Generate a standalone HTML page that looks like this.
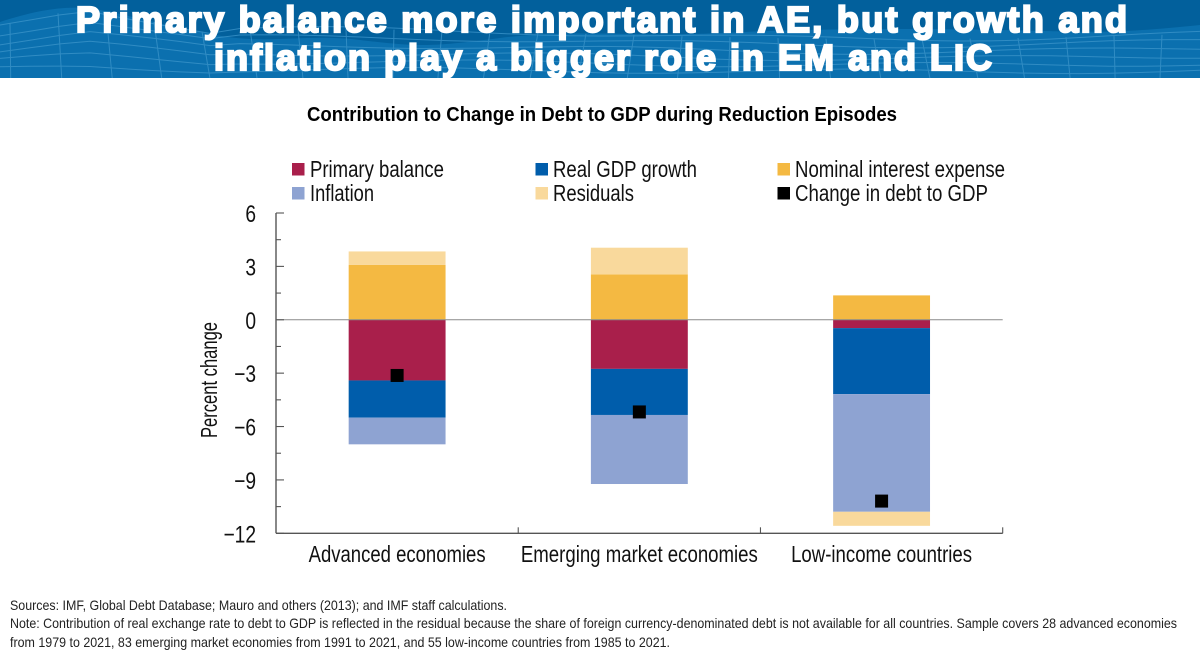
<!DOCTYPE html>
<html lang="en">
<head>
<meta charset="utf-8">
<title>Contribution to Change in Debt to GDP during Reduction Episodes</title>
<style>
html,body{margin:0;padding:0;background:#fff;width:1200px;height:651px;overflow:hidden}
svg{display:block}
text{font-family:"Liberation Sans",Arial,sans-serif;fill:#111}
</style>
</head>
<body>
<svg id="slide" width="1200" height="651" viewBox="0 0 1200 651" xmlns="http://www.w3.org/2000/svg">
  <rect width="1200" height="651" fill="#fff"/>
  <g id="banner">
    <rect width="1200" height="78" fill="#02609c"/>
    <path fill="#0b70af" d="M0 22C30 12 60 6 85 8S150 22 210 34S300 33 360 40S430 47 500 38S640 37 720 33S900 28 1000 30S1110 34 1200 25V78H0Z"/>
    <g id="mesh" fill="none" stroke="#3a93c9" stroke-width="1" opacity=".8"></g>
  </g>
  <text x="76" y="32" font-size="36" font-weight="700" textLength="1051" lengthAdjust="spacing" style="fill:#fff;stroke:#fff;stroke-width:2.2px">Primary balance more important in AE, but growth and</text>
  <text x="214" y="70" font-size="36" font-weight="700" textLength="778" lengthAdjust="spacing" style="fill:#fff;stroke:#fff;stroke-width:2.2px">inflation play a bigger role in EM and LIC</text>
  <text x="307" y="121" font-size="20.5" font-weight="700" textLength="590" lengthAdjust="spacingAndGlyphs" style="fill:#000">Contribution to Change in Debt to GDP during Reduction Episodes</text>

  <g id="legend">
    <g><rect x="292" y="163" width="12.5" height="12.5" fill="#a91f4b"/><text x="310" y="177" font-size="23" textLength="134" lengthAdjust="spacingAndGlyphs">Primary balance</text></g>
    <g><rect x="535.5" y="163" width="12.5" height="12.5" fill="#005dab"/><text x="553" y="177" font-size="23" textLength="144" lengthAdjust="spacingAndGlyphs">Real GDP growth</text></g>
    <g><rect x="777.5" y="163" width="12.5" height="12.5" fill="#f4b942"/><text x="795" y="177" font-size="23" textLength="210" lengthAdjust="spacingAndGlyphs">Nominal interest expense</text></g>
    <g><rect x="292" y="187" width="12.5" height="12.5" fill="#8ea3d2"/><text x="310" y="201" font-size="23" textLength="64" lengthAdjust="spacingAndGlyphs">Inflation</text></g>
    <g><rect x="535.5" y="187" width="12.5" height="12.5" fill="#f9d99c"/><text x="553" y="201" font-size="23" textLength="81" lengthAdjust="spacingAndGlyphs">Residuals</text></g>
    <g><rect x="777.5" y="187" width="12.5" height="12.5" fill="#000"/><text x="795" y="201" font-size="23" textLength="193" lengthAdjust="spacingAndGlyphs">Change in debt to GDP</text></g>
  </g>

  <g id="bars"></g>
  <g id="axes"></g>
  <g id="markers"></g>
  <text transform="translate(217,438) rotate(-90)" font-size="23" textLength="116" lengthAdjust="spacingAndGlyphs">Percent change</text>

  <g>
    <text x="10" y="610" font-size="14" textLength="497" lengthAdjust="spacingAndGlyphs" style="fill:#222">Sources: IMF, Global Debt Database; Mauro and others (2013); and IMF staff calculations.</text>
    <text x="10" y="628" font-size="14" textLength="1167" lengthAdjust="spacingAndGlyphs" style="fill:#222">Note: Contribution of real exchange rate to debt to GDP is reflected in the residual because the share of foreign currency-denominated debt is not available for all countries. Sample covers 28 advanced economies</text>
    <text x="10" y="647" font-size="14" textLength="660" lengthAdjust="spacingAndGlyphs" style="fill:#222">from 1979 to 2021, 83 emerging market economies from 1991 to 2021, and 55 low-income countries from 1985 to 2021.</text>
  </g>
</svg>
<script>
// Chart data
const categories = ["Advanced economies", "Emerging market economies", "Low-income countries"];
const primaryBalance = [-3.41, -2.76, -0.47];
const realGdpGrowth = [-2.09, -2.59, -3.71];
const inflation = [-1.5, -3.88, -6.61];
const nominalInterest = [3.08, 2.55, 1.37];
const residuals = [0.76, 1.5, -0.79];
const changeInDebt = [-3.13, -5.18, -10.19];
const yTicks = [6, 3, 0, -3, -6, -9, -12];
const yMinorTicks = [4.5, 1.5, -1.5, -4.5, -7.5, -10.5];
const categoryWidths = [177, 237, 181];

const NS = "http://www.w3.org/2000/svg";
const plot = { left: 276, right: 1002.7, top: 213, bottom: 533.3, max: 6, min: -12 };
const yScale = v => plot.top + (plot.max - v) * (plot.bottom - plot.top) / (plot.max - plot.min);
const band = (plot.right - plot.left) / categories.length;
const xCenter = i => plot.left + band * (i + 0.5);
const barWidth = band * 0.4;

function make(tag, parent, props) {
  const el = document.createElementNS(NS, tag);
  for (const k in props) el.setAttribute(k, props[k]);
  parent.appendChild(el);
  return el;
}

const seriesList = [
  { key: "primary-balance", values: primaryBalance, color: "#a91f4b" },
  { key: "real-gdp-growth", values: realGdpGrowth, color: "#005dab" },
  { key: "inflation", values: inflation, color: "#8ea3d2" },
  { key: "nominal-interest-expense", values: nominalInterest, color: "#f4b942" },
  { key: "residuals", values: residuals, color: "#f9d99c" }
];

const barsG = document.getElementById("bars");
categories.forEach((cat, i) => {
  let pos = 0, neg = 0;
  seriesList.forEach(s => {
    const v = s.values[i];
    const start = v >= 0 ? pos : neg;
    const end = start + v;
    if (v >= 0) pos = end; else neg = end;
    const y0 = yScale(Math.max(start, end));
    const y1 = yScale(Math.min(start, end));
    const r = make("rect", barsG, { x: xCenter(i) - barWidth / 2, y: y0, width: barWidth, height: y1 - y0, fill: s.color });
    
    
  });
});

const axesG = document.getElementById("axes");
const axisColor = "#555";
const yAxisLine = make("line", axesG, { x1: plot.left, x2: plot.left, y1: yScale(plot.max), y2: plot.bottom, stroke: axisColor, "stroke-width": 1.4 });


const xAxisLine = make("line", axesG, { x1: plot.left, x2: plot.right, y1: plot.bottom, y2: plot.bottom, stroke: axisColor, "stroke-width": 1.4 });


const zeroBack = make("line", axesG, { x1: plot.left, x2: plot.right, y1: yScale(0), y2: yScale(0), stroke: "#8a8a8a", "stroke-width": 1 });



yTicks.forEach(t => {
  const y = yScale(t);
  const tick = make("line", axesG, { x1: plot.left, x2: plot.left + 8, y1: y, y2: y, stroke: axisColor, "stroke-width": 1.1 });
  
  
  const label = make("text", axesG, { transform: "translate(256," + (y + 9) + ") scale(0.8,1)", "text-anchor": "end", "font-size": 24 });
  
  
  label.textContent = t < 0 ? "\u2212" + Math.abs(t) : String(t);
});
yMinorTicks.forEach(t => {
  const y = yScale(t);
  const tick = make("line", axesG, { x1: plot.left, x2: plot.left + 5, y1: y, y2: y, stroke: axisColor, "stroke-width": 1.1 });
  
  
});
categories.forEach((cat, i) => {
  const edge = plot.left + band * (i + 1);
  const tick = make("line", axesG, { x1: edge, x2: edge, y1: plot.bottom, y2: plot.bottom - 6, stroke: axisColor, "stroke-width": 1.1 });
  
  
  const label = make("text", axesG, { x: xCenter(i) - categoryWidths[i] / 2, y: 562, "font-size": 23, textLength: categoryWidths[i], lengthAdjust: "spacingAndGlyphs" });
  
  
  label.textContent = cat;
});

const markersG = document.getElementById("markers");
changeInDebt.forEach((v, i) => {
  const m = make("rect", markersG, { x: xCenter(i) - 6.5, y: yScale(v) - 6.5, width: 13, height: 13, fill: "#000" });
  
  
});

// Decorative banner mesh
const meshG = document.getElementById("mesh");
function waveTop(x) {
  const l = 8 + 26 * Math.min(1, Math.abs(x - 85) / 130);
  const r = 34 - 5 * Math.sin(x / 190);
  return x < 215 ? l : r;
}
for (let row = 0; row < 6; row++) {
  let d = "";
  for (let x = 0; x <= 1200; x += 30) {
    const top = waveTop(x);
    const y = top + (78 - top) * row / 6 + 2.5 * Math.sin(x / 70 + row);
    d += (x ? "L" : "M") + x + " " + y.toFixed(1);
  }
  const p = make("path", meshG, { d: d });
  
  
}
for (let x = 10; x < 1200; x += 48) {
  const top = waveTop(x);
  const p = make("path", meshG, { d: "M" + x + " " + top.toFixed(1) + "L" + (x + 8 * Math.sin(x / 120)).toFixed(1) + " 78" });
  
  
}
</script>
</body>
</html>
